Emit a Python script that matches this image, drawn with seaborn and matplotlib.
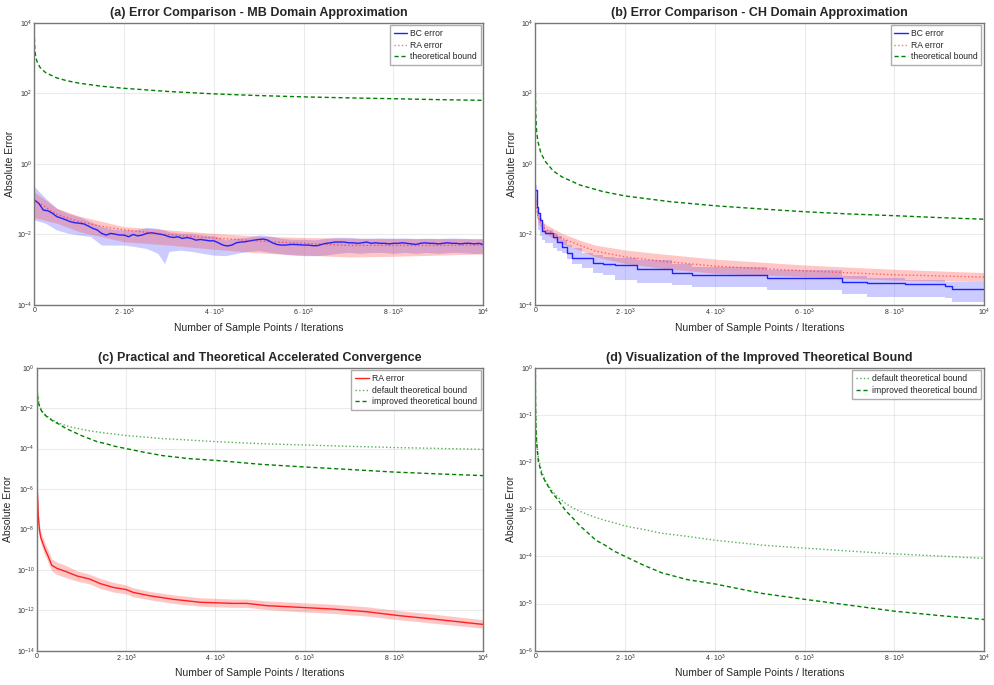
import numpy as np
import pandas as pd
import matplotlib
matplotlib.use("Agg")
import matplotlib.pyplot as plt
import seaborn as sns

# ---- panel (a): MB domain ----
a_n = list(range(0, 10001, 100))
a_bc = [0.095, 0.076, 0.049, 0.047, 0.040, 0.032, 0.029, 0.026, 0.023, 0.0215,
        0.0208, 0.0199, 0.0174, 0.0149, 0.0134, 0.0107, 0.0096, 0.0107, 0.0102, 0.0096,
        0.0096, 0.0086, 0.0100, 0.0091, 0.0096, 0.0107, 0.0112, 0.0107, 0.0102, 0.0096,
        0.0086, 0.0082, 0.0086, 0.0077, 0.0082, 0.0077, 0.0069, 0.0072, 0.0069, 0.0066,
        0.0066, 0.0058, 0.0050, 0.0047, 0.0050, 0.0058, 0.0061, 0.0062, 0.0066, 0.0069,
        0.0072, 0.0074, 0.0069, 0.0058, 0.0052, 0.0050, 0.0050, 0.0052, 0.0052, 0.0051,
        0.0050, 0.0050, 0.0048, 0.0048, 0.0052, 0.0056, 0.0058, 0.0061, 0.0061, 0.0061,
        0.0058, 0.0058, 0.0056, 0.0058, 0.0061, 0.0056, 0.0058, 0.0056, 0.0056, 0.0054,
        0.0056, 0.0056, 0.0058, 0.0056, 0.0054, 0.0052, 0.0056, 0.0058, 0.0056, 0.0056,
        0.0054, 0.0056, 0.0058, 0.0056, 0.0056, 0.0054, 0.0056, 0.0056, 0.0054, 0.0056,
        0.0052]
a_bc_band_n = [0, 250, 500, 750, 1000, 1250, 1500, 1750, 2000, 2250, 2500, 2750, 2900, 3000,
               3250, 3500, 3750, 4000, 4250, 4500, 4750, 5000, 5250, 5500, 5750, 6000, 6250,
               6500, 6750, 7000, 7250, 7500, 7750, 8000, 8250, 8500, 8750, 9000, 9250, 9500,
               9750, 10000]
a_bc_up = [0.226, 0.106, 0.055, 0.0397, 0.0319, 0.0231, 0.0166, 0.0140, 0.0134, 0.0134,
           0.0159, 0.0149, 0.0134, 0.0120, 0.0108, 0.0108, 0.0097, 0.0091, 0.0070, 0.0078,
           0.0083, 0.0097, 0.0091, 0.0078, 0.0073, 0.0073, 0.0070, 0.0078, 0.0083, 0.0083,
           0.0078, 0.0078, 0.0079, 0.0078, 0.0079, 0.0076, 0.0078, 0.0076, 0.0079, 0.0078,
           0.0076, 0.0076]
a_bc_lo = [0.0257, 0.0207, 0.0134, 0.0108, 0.0097, 0.0087, 0.0050, 0.0050, 0.0050, 0.0045,
           0.0040, 0.0029, 0.0015, 0.0033, 0.0036, 0.0033, 0.0029, 0.0026, 0.0025, 0.0029,
           0.0033, 0.0035, 0.0031, 0.0028, 0.0026, 0.0025, 0.0025, 0.0026, 0.0029, 0.0031,
           0.0029, 0.0031, 0.0031, 0.0029, 0.0031, 0.0029, 0.0031, 0.0029, 0.0031, 0.0031,
           0.0029, 0.0029]
a_ra_n = [0, 250, 500, 1000, 1500, 2000, 2500, 3000, 3500, 4000, 4500, 5000, 5500, 6000,
          6500, 7000, 8000, 9000, 10000]
a_ra = [0.09, 0.06, 0.037, 0.023, 0.017, 0.0135, 0.0115, 0.0098, 0.0088, 0.0079, 0.0072,
        0.0065, 0.0060, 0.0056, 0.0052, 0.0049, 0.0049, 0.0049, 0.0050]
a_ra_band_n = [0, 500, 1000, 2000, 3000, 4000, 5000, 6000, 7000, 8000, 9000, 10000]
a_ra_up = [0.16, 0.055, 0.033, 0.0166, 0.0134, 0.0107, 0.0089, 0.0082, 0.0078, 0.0077, 0.0077, 0.0075]
a_ra_lo = [0.03, 0.0208, 0.012, 0.0062, 0.0050, 0.0038, 0.0030, 0.0026, 0.0023, 0.0024, 0.0026, 0.0028]
a_bound_n = [1, 3, 10, 30, 60, 127, 250, 500, 720, 1000, 1500, 2000, 3000, 4000, 5000,
             6000, 7000, 8000, 9000, 10000]
a_bound = [3700, 3300, 1900, 1100, 790, 540, 385, 272, 227, 193, 158, 138, 112, 96, 86,
           79, 74, 70, 66, 63]

# ---- panel (b): CH domain ----
b_bc_n = [0, 30, 67, 104, 141, 215, 401, 475, 587, 698, 825, 1048, 1293, 1516, 1776,
          2259, 3039, 3484, 5156, 6828, 7385, 8239, 9131, 9279, 10000]
b_bc = [0.18, 0.06, 0.04, 0.025, 0.0125, 0.0107, 0.0083, 0.0060, 0.0045, 0.0029, 0.0022,
        0.0021, 0.0016, 0.0015, 0.00138, 0.00103, 0.00083, 0.00071, 0.0006, 0.00045,
        0.00042, 0.0004, 0.00035, 0.00029, 0.00029]
b_bc_up = [0.25, 0.09, 0.040, 0.03, 0.02, 0.0134, 0.0108, 0.009, 0.0070, 0.005, 0.0040,
           0.0029, 0.0026, 0.00235, 0.0021, 0.0019, 0.0015, 0.00122, 0.00098, 0.00067,
           0.00057, 0.00051, 0.00046, 0.00046, 0.00046]
b_bc_lo = [0.08, 0.03, 0.0134, 0.009, 0.007, 0.0056, 0.0040, 0.0035, 0.0029, 0.002, 0.0015,
           0.0011, 0.00083, 0.00071, 0.00051, 0.00041, 0.00037, 0.00033, 0.00027, 0.00021,
           0.00017, 0.00017, 0.000155, 0.000125, 0.000125]
b_ra_n = [0, 20, 67, 140, 215, 590, 1000, 1330, 2010, 2820, 4010, 6000, 8000, 10000]
b_ra = [0.12, 0.06, 0.029, 0.019, 0.0146, 0.0078, 0.0049, 0.0034, 0.0023, 0.00175,
        0.00126, 0.00093, 0.00072, 0.00062]
b_ra_up = [0.2, 0.09, 0.040, 0.026, 0.0198, 0.0108, 0.0068, 0.0050, 0.0036, 0.0028,
           0.0020, 0.00136, 0.00103, 0.00083]
b_ra_lo = [0.07, 0.04, 0.0207, 0.014, 0.0108, 0.0056, 0.0035, 0.00235, 0.0015, 0.0011,
           0.00079, 0.00064, 0.00051, 0.00046]
b_bound_n = [1, 3, 10, 30, 60, 120, 215, 400, 590, 1000, 1500, 2000, 3000, 4000, 5000,
             6000, 7000, 8000, 9000, 10000]
b_bound = [100, 80, 25, 8, 4.2, 2.1, 1.2, 0.63, 0.43, 0.25, 0.165, 0.123, 0.085, 0.065,
           0.053, 0.044, 0.038, 0.034, 0.030, 0.027]

# ---- panel (c)/(d): accelerated convergence ----
c_n = [1, 5, 12, 37, 60, 90, 140, 190, 260, 335, 450, 670, 900, 1190, 1420, 1720, 2000,
       2160, 2540, 3060, 3660, 4400, 4700, 5150, 5900, 6640, 7390, 8130, 8880, 10000]
c_ra = [2.5e-3, 1e-4, 1e-6, 4e-8, 1e-8, 4e-9, 2e-9, 1e-9, 4.5e-10, 1.7e-10, 1.2e-10, 8e-11,
        5e-11, 3.5e-11, 2.1e-11, 1.35e-11, 1.07e-11, 7.7e-12, 5.2e-12, 3.5e-12, 2.5e-12,
        2.2e-12, 2.2e-12, 1.7e-12, 1.4e-12, 1.15e-12, 8.5e-13, 5.4e-13, 3.7e-13, 2e-13]
c_ra_up = [2.5e-3, 2e-4, 2e-6, 8e-8, 2e-8, 8e-9, 4e-9, 2e-9, 9e-10, 3.5e-10, 2.4e-10,
           1.6e-10, 9e-11, 6e-11, 3.8e-11, 2.4e-11, 1.8e-11, 1.3e-11, 8.5e-12, 5.8e-12,
           4.2e-12, 3.6e-12, 3.6e-12, 2.9e-12, 2.4e-12, 2e-12, 1.5e-12, 9.5e-13, 6.5e-13,
           3.4e-13]
c_ra_lo = [2.5e-3, 5e-5, 5e-7, 2e-8, 5e-9, 2e-9, 1e-9, 5e-10, 2.3e-10, 9e-11, 6e-11, 4e-11,
           2.8e-11, 2e-11, 1.2e-11, 8e-12, 6.5e-12, 4.7e-12, 3.3e-12, 2.2e-12, 1.6e-12,
           1.4e-12, 1.4e-12, 1.1e-12, 8.5e-13, 7e-13, 5.2e-13, 3.4e-13, 2.3e-13, 1.3e-13]
bound_n = [1, 3, 8, 15, 30, 67, 140, 215, 364, 500, 670, 810, 1000, 1180, 1350, 1550,
           1750, 2000, 2400, 2815, 3400, 4010, 5040, 6000, 6980, 8000, 8980, 10000]
default_bound = [1.0, 0.3, 0.11, 0.06, 0.03, 0.0125, 6.4e-3, 4.2e-3, 2.5e-3, 1.8e-3,
                 1.34e-3, 1.1e-3, 9.0e-4, 7.6e-4, 6.7e-4, 5.8e-4, 5.2e-4, 4.4e-4, 3.75e-4,
                 3.1e-4, 2.65e-4, 2.2e-4, 1.74e-4, 1.5e-4, 1.3e-4, 1.13e-4, 1.02e-4, 9.1e-5]
improved_bound = [1.0, 0.3, 0.1, 0.05, 0.025, 0.0105, 5.6e-3, 4.0e-3, 2.3e-3, 1.6e-3,
                  9.5e-4, 6.9e-4, 4.4e-4, 3.1e-4, 2.2e-4, 1.74e-4, 1.3e-4, 1.0e-4, 6.6e-5,
                  4.5e-5, 3.2e-5, 2.6e-5, 1.65e-5, 1.23e-5, 9.3e-6, 6.9e-6, 5.6e-6, 4.6e-6]

x_ticks = [0, 2000, 4000, 6000, 8000, 10000]
x_ticklabels = ['0', r'$2\cdot10^{3}$', r'$4\cdot10^{3}$', r'$6\cdot10^{3}$',
                r'$8\cdot10^{3}$', r'$10^{4}$']

sns.set_style('white')
plt.rcParams['font.family'] = ['Liberation Sans', 'DejaVu Sans']
plt.rcParams['mathtext.fontset'] = 'custom'
plt.rcParams['mathtext.rm'] = 'Liberation Sans'
plt.rcParams['mathtext.it'] = 'Liberation Sans:italic'

fig = plt.figure(figsize=(9.95, 6.85), dpi=100)
ax_a = fig.add_axes([0.0345, 0.5547, 0.4512, 0.4122])
ax_b = fig.add_axes([0.538, 0.5547, 0.451, 0.4122])
ax_c = fig.add_axes([0.0369, 0.05, 0.4488, 0.4132])
ax_d = fig.add_axes([0.538, 0.05, 0.451, 0.4132])

BLUE = '#2222ff'
RED = '#ff2020'
GREEN = '#008000'
LIGHT_GREEN = '#55b055'


def style_axes(ax, title, yexps, ylab_x):
    ax.set_yscale('log')
    ax.set_xlim(0, 10000)
    ax.set_ylim(10.0 ** yexps[0], 10.0 ** yexps[-1])
    ax.set_xticks(x_ticks)
    ax.set_xticklabels(x_ticklabels)
    ax.set_yticks([10.0 ** e for e in yexps])
    ax.set_yticklabels([r'$10^{%d}$' % e for e in yexps])
    ax.minorticks_off()
    ax.tick_params(labelsize=5.0, length=2.5, width=0.6, color='#555555',
                   direction='in', pad=1.5, labelcolor='#333333')
    ax.grid(True, color='#000000', alpha=0.08, linewidth=0.8)
    for s in ax.spines.values():
        s.set_color('#777777')
        s.set_linewidth(1.0)
    ax.set_title(title, fontsize=9, fontweight='bold', pad=5)
    ax.set_xlabel('Number of Sample Points / Iterations', fontsize=7.5, labelpad=3)
    ax.set_ylabel('Absolute Error', fontsize=7.5)
    ax.yaxis.set_label_coords(ylab_x, 0.5)
    leg = ax.legend(loc='upper right', fontsize=6.2, frameon=True, fancybox=False,
                    handlelength=1.6, handletextpad=0.3, borderpad=0.45,
                    labelspacing=0.3, borderaxespad=0.3)
    leg.get_frame().set_edgecolor('#999999')
    leg.get_frame().set_linewidth(1.0)


# (a)
ax_a.fill_between(a_bc_band_n, a_bc_lo, a_bc_up, color='#5555ff', alpha=0.3, linewidth=0)
ax_a.fill_between(a_ra_band_n, a_ra_lo, a_ra_up, color='#ff4444', alpha=0.3, linewidth=0)
sns.lineplot(x=a_n, y=a_bc, ax=ax_a, color=BLUE, linewidth=1.0, label='BC error')
sns.lineplot(x=a_ra_n, y=a_ra, ax=ax_a, color=RED, alpha=0.6, linewidth=1.0,
             linestyle=':', label='RA error')
sns.lineplot(x=a_bound_n, y=a_bound, ax=ax_a, color=GREEN, linewidth=1.0,
             linestyle=(0, (3, 2)), label='theoretical bound')
style_axes(ax_a, '(a) Error Comparison - MB Domain Approximation', [-4, -2, 0, 2, 4], -0.044)

# (b)
ax_b.fill_between(b_bc_n, b_bc_lo, b_bc_up, step='post', color='#5555ff', alpha=0.3, linewidth=0)
ax_b.fill_between(b_ra_n, b_ra_lo, b_ra_up, color='#ff4444', alpha=0.3, linewidth=0)
sns.lineplot(x=b_bc_n, y=b_bc, ax=ax_b, color=BLUE, linewidth=1.0,
             drawstyle='steps-post', label='BC error')
sns.lineplot(x=b_ra_n, y=b_ra, ax=ax_b, color=RED, alpha=0.6, linewidth=1.0,
             linestyle=':', label='RA error')
sns.lineplot(x=b_bound_n, y=b_bound, ax=ax_b, color=GREEN, linewidth=1.0,
             linestyle=(0, (3, 2)), label='theoretical bound')
style_axes(ax_b, '(b) Error Comparison - CH Domain Approximation', [-4, -2, 0, 2, 4], -0.041)

# (c)
ax_c.fill_between(c_n, c_ra_lo, c_ra_up, color='#ff4444', alpha=0.3, linewidth=0)
sns.lineplot(x=c_n, y=c_ra, ax=ax_c, color=RED, linewidth=1.0, label='RA error')
sns.lineplot(x=bound_n, y=default_bound, ax=ax_c, color=LIGHT_GREEN, linewidth=1.0,
             linestyle=':', label='default theoretical bound')
sns.lineplot(x=bound_n, y=improved_bound, ax=ax_c, color=GREEN, linewidth=1.0,
             linestyle=(0, (3, 2)), label='improved theoretical bound')
style_axes(ax_c, '(c) Practical and Theoretical Accelerated Convergence',
           [-14, -12, -10, -8, -6, -4, -2, 0], -0.052)

# (d)
sns.lineplot(x=bound_n, y=default_bound, ax=ax_d, color=LIGHT_GREEN, linewidth=1.0,
             linestyle=':', label='default theoretical bound')
sns.lineplot(x=bound_n, y=improved_bound, ax=ax_d, color=GREEN, linewidth=1.0,
             linestyle=(0, (3, 2)), label='improved theoretical bound')
style_axes(ax_d, '(d) Visualization of the Improved Theoretical Bound',
           [-6, -5, -4, -3, -2, -1, 0], -0.043)

fig.savefig('out.png', dpi=100)
